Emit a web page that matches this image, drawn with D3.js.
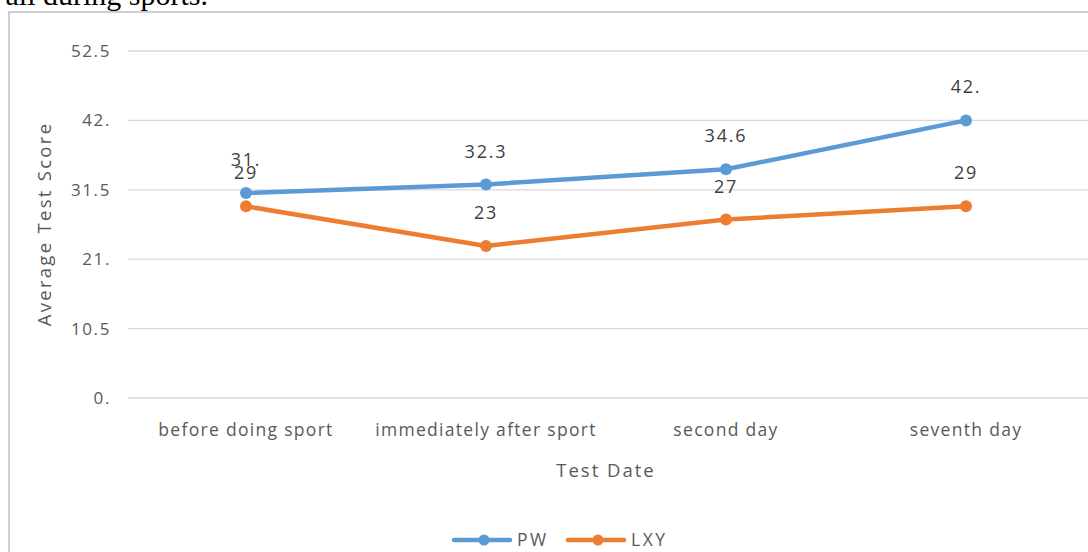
<!DOCTYPE html>
<html>
<head>
<meta charset="utf-8">
<script src="https://cdn.jsdelivr.net/npm/d3@7"></script>
<style>
  body { margin: 0; background: #fff; }
  svg { display: block; }
</style>
</head>
<body>
<div id="chart"></div>
<script>
// chart data
let categories = ["before doing sport", "immediately after sport", "second day", "seventh day"];
let pwValues = [31, 32.3, 34.6, 42];
let lxyValues = [29, 23, 27, 29];
let pwLabels = ["31.", "32.3", "34.6", "42."];
let lxyLabels = ["29", "23", "27", "29"];
let yTicks = [0, 10.5, 21, 31.5, 42, 52.5];
let yTickLabels = ["0.", "10.5", "21.", "31.5", "42.", "52.5"];

let width = 1088;
let height = 552;
let font = "'Open Sans', 'DejaVu Sans', sans-serif";
let textColor = "#595959";

let svg = d3.select("#chart")
  .append("svg")
  .attr("width", width)
  .attr("height", height);

// piece of the document text above the chart
svg.append("text")
  .attr("x", 208)
  .attr("y", 5)
  .attr("text-anchor", "end")
  .attr("font-family", "'Liberation Serif', serif")
  .attr("font-size", 30)
  .attr("fill", "#000")
  .text("all during sports.");

// chart frame
svg.append("rect")
  .attr("x", 9)
  .attr("y", 12)
  .attr("width", 1100)
  .attr("height", 560)
  .attr("fill", "#fff")
  .attr("stroke", "#bfbfbf")
  .attr("stroke-width", 1.5);

let x = d3.scaleBand()
  .domain(categories)
  .range([126, 1086]);

let y = d3.scaleLinear()
  .domain([0, 52.5])
  .range([398, 51]);

// gridlines
svg.append("g")
  .selectAll("line")
  .data(yTicks)
  .join("line")
  .attr("x1", 128)
  .attr("x2", width)
  .attr("y1", d => y(d))
  .attr("y2", d => y(d))
  .attr("stroke", "#d9d9d9")
  .attr("stroke-width", 1.3);

// y tick labels
svg.append("g")
  .selectAll("text")
  .data(yTicks)
  .join("text")
  .attr("x", 111)
  .attr("y", d => y(d))
  .attr("dy", "0.35em")
  .attr("text-anchor", "end")
  .attr("font-family", font)
  .attr("font-size", 17)
  .attr("letter-spacing", 1.6)
  .attr("fill", textColor)
  .text((d, i) => yTickLabels[i]);

// x tick labels
svg.append("g")
  .selectAll("text")
  .data(categories)
  .join("text")
  .attr("x", d => x(d) + x.bandwidth() / 2)
  .attr("y", 436)
  .attr("text-anchor", "middle")
  .attr("font-family", font)
  .attr("font-size", 17.5)
  .attr("letter-spacing", 1.3)
  .attr("fill", textColor)
  .text(d => d);

// axis titles
svg.append("text")
  .attr("x", 606)
  .attr("y", 477)
  .attr("text-anchor", "middle")
  .attr("font-family", font)
  .attr("font-size", 18.5)
  .attr("letter-spacing", 2)
  .attr("fill", textColor)
  .text("Test Date");

svg.append("text")
  .attr("transform", "translate(51,224) rotate(-90)")
  .attr("text-anchor", "middle")
  .attr("font-family", font)
  .attr("font-size", 18.5)
  .attr("letter-spacing", 2.3)
  .attr("fill", textColor)
  .text("Average Test Score");

let series = [
  { name: "PW", values: pwValues, labels: pwLabels, color: "#5b9bd5" },
  { name: "LXY", values: lxyValues, labels: lxyLabels, color: "#ed7d31" }
];

let line = d3.line()
  .x((d, i) => x(categories[i]) + x.bandwidth() / 2)
  .y(d => y(d));

series.forEach(s => {
  svg.append("path")
    .datum(s.values)
    .attr("d", line)
    .attr("fill", "none")
    .attr("stroke", s.color)
    .attr("stroke-width", 4.5)
    .attr("stroke-linejoin", "round")
    .attr("stroke-linecap", "round");

  svg.append("g")
    .selectAll("circle")
    .data(s.values)
    .join("circle")
    .attr("cx", (d, i) => x(categories[i]) + x.bandwidth() / 2)
    .attr("cy", d => y(d))
    .attr("r", 6)
    .attr("fill", s.color);

  svg.append("g")
    .selectAll("text")
    .data(s.values)
    .join("text")
    .attr("x", (d, i) => x(categories[i]) + x.bandwidth() / 2)
    .attr("y", d => y(d) - 27)
    .attr("text-anchor", "middle")
    .attr("font-family", font)
    .attr("font-size", 18)
    .attr("letter-spacing", 1.8)
    .attr("fill", "#404040")
    .text((d, i) => s.labels[i]);
});

// legend
let legend = svg.append("g");
series.forEach((s, i) => {
  let lx = 454 + i * 114;
  legend.append("line")
    .attr("x1", lx)
    .attr("x2", lx + 56)
    .attr("y1", 540)
    .attr("y2", 540)
    .attr("stroke", s.color)
    .attr("stroke-width", 4.5)
    .attr("stroke-linecap", "round");
  legend.append("circle")
    .attr("cx", lx + 30)
    .attr("cy", 540)
    .attr("r", 5.5)
    .attr("fill", s.color);
  legend.append("text")
    .attr("x", lx + 63)
    .attr("y", 540)
    .attr("dy", "0.35em")
    .attr("font-family", font)
    .attr("font-size", 17.5)
    .attr("letter-spacing", 2.5)
    .attr("fill", textColor)
    .text(s.name);
});
</script>
</body>
</html>
